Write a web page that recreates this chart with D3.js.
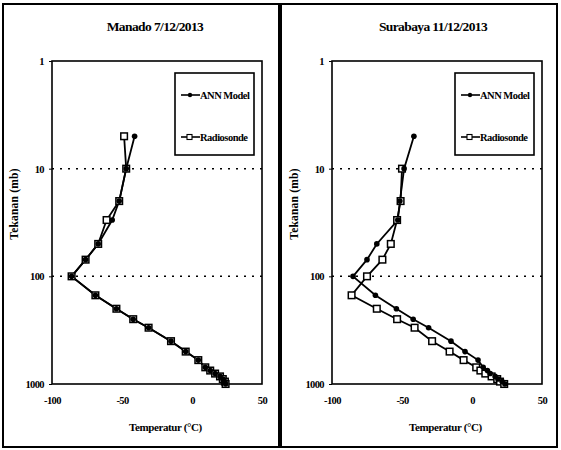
<!DOCTYPE html>
<html>
<head>
<meta charset="utf-8">
<script src="https://cdn.jsdelivr.net/npm/d3@7"></script>
<style>
  body { margin: 0; background: #fff; }
  text { font-family: "Liberation Serif", serif; font-weight: bold; fill: #000; }
</style>
</head>
<body>
<svg id="chart" width="561" height="450"></svg>
<script>
// pressure levels (mb)
var pressureLevels = [5, 10, 20, 30, 50, 70, 100, 150, 200, 250, 300, 400, 500, 600, 700, 750, 800, 850, 900, 950, 1000];

// temperature (deg C) per level
var manadoAnn = [-41, -47, -52, -57, -67, -76, -86, -69, -54, -42, -31, -15, -4.5, 4.5, 9.5, 13, 16.5, 20, 22, 23.5, 24];
var manadoRadio = [-48.5, -47, -52, -61, -67, -76, -86, -69, -54, -42, -31, -15, -4.5, 4.5, 9.5, 13, 16.5, 20, 22, 23.5, 24];
var surabayaAnn = [-41.5, -48.5, -51.5, -53, -68, -75, -85, -69, -54, -42, -31, -15, -5, 4.3, 8, 11, 13, 16.5, 18.5, 21.5, 23.5];
var surabayaRadio = [null, -50, -51, -53.5, -58, -64, -75, -86, -68, -53.5, -41, -28.5, -16, -6, 3, 6, 9.5, 14, 18, 20, 23];

var xTicks = [-100, -50, 0, 50];
var yTicks = [1, 10, 100, 1000];
var gridLevels = [10, 100];
var seriesNames = ["ANN Model", "Radiosonde"];

var panels = [
  { title: "Manado 7/12/2013", ann: manadoAnn, radio: manadoRadio, frameX: 3, plotX: 52 },
  { title: "Surabaya 11/12/2013", ann: surabayaAnn, radio: surabayaRadio, frameX: 281, plotX: 332 }
];

var plotTop = 61, plotW = 210, plotH = 323;
var svg = d3.select("#chart");

var x = d3.scaleLinear().domain([-100, 50]).range([0, plotW]);
var y = d3.scaleLog().domain([1, 1000]).range([0, plotH]);

function toPoints(temps) {
  return pressureLevels.map(function (p, i) {
    return { p: p, t: temps[i] };
  }).filter(function (d) { return d.t !== null; });
}

var line = d3.line()
  .x(function (d) { return x(d.t); })
  .y(function (d) { return y(d.p); });

function styleTicks(sel) {
  sel.selectAll("text")
    .attr("font-size", 10.5).attr("letter-spacing", -0.6)
    .style("font-family", "Liberation Serif").style("font-weight", "bold");
}

panels.forEach(function (cfg) {
  // outer frame
  svg.append("rect")
    .attr("x", cfg.frameX).attr("y", 4)
    .attr("width", 276).attr("height", 443)
    .attr("fill", "none").attr("stroke", "#000").attr("stroke-width", 2);

  svg.append("text")
    .attr("x", cfg.frameX + 152).attr("y", 31)
    .attr("text-anchor", "middle")
    .attr("font-size", 13.5)
    .attr("letter-spacing", -0.6)
    .text(cfg.title);

  var g = svg.append("g").attr("transform", "translate(" + cfg.plotX + "," + plotTop + ")");

  // dotted grid
  g.selectAll(".grid").data(gridLevels).enter().append("line")
    .attr("class", "grid")
    .attr("x1", 0).attr("x2", plotW)
    .attr("y1", function (d) { return y(d); })
    .attr("y2", function (d) { return y(d); })
    .attr("stroke", "#000").attr("stroke-width", 1.5)
    .attr("stroke-dasharray", "2,6");

  var yAxis = d3.axisLeft(y).tickValues(yTicks).tickFormat(d3.format("d")).tickSize(3).tickPadding(5);
  var ya = g.append("g").call(yAxis);
  ya.select(".domain").remove();
  styleTicks(ya);

  var xAxis = d3.axisBottom(x).tickValues(xTicks).tickSize(0).tickPadding(13)
    .tickFormat(function (d) { return d < 0 ? "-" + Math.abs(d) : String(d); });
  var xa = g.append("g").attr("transform", "translate(0," + plotH + ")").call(xAxis);
  xa.select(".domain").remove();
  styleTicks(xa);

  g.append("rect")
    .attr("width", plotW).attr("height", plotH)
    .attr("fill", "none").attr("stroke", "#000").attr("stroke-width", 1.6);

  // series
  var radio = toPoints(cfg.radio), ann = toPoints(cfg.ann);
  g.append("path").datum(radio).attr("d", line)
    .attr("fill", "none").attr("stroke", "#000").attr("stroke-width", 1.8);
  g.append("path").datum(ann).attr("d", line)
    .attr("fill", "none").attr("stroke", "#000").attr("stroke-width", 1.8);

  g.selectAll(".sq").data(radio).enter().append("rect")
    .attr("class", "sq")
    .attr("x", function (d) { return x(d.t) - 3.3; })
    .attr("y", function (d) { return y(d.p) - 3.3; })
    .attr("width", 6.6).attr("height", 6.6)
    .attr("fill", "#fff").attr("stroke", "#000").attr("stroke-width", 1.5);
  g.selectAll(".dot").data(ann).enter().append("circle")
    .attr("class", "dot")
    .attr("cx", function (d) { return x(d.t); })
    .attr("cy", function (d) { return y(d.p); })
    .attr("r", 2.8).attr("fill", "#000");

  // legend
  var lg = g.append("g").attr("transform", "translate(123,12)");
  lg.append("rect").attr("width", 79).attr("height", 82)
    .attr("fill", "#fff").attr("stroke", "#000").attr("stroke-width", 1.6);
  seriesNames.forEach(function (name, i) {
    var ly = 22 + i * 42;
    lg.append("line").attr("x1", 6).attr("x2", 25).attr("y1", ly).attr("y2", ly)
      .attr("stroke", "#000").attr("stroke-width", 1.6);
    if (i === 0) {
      lg.append("circle").attr("cx", 15).attr("cy", ly).attr("r", 2.2).attr("fill", "#000");
    } else {
      lg.append("rect").attr("x", 12).attr("y", ly - 2.5).attr("width", 5).attr("height", 5)
        .attr("fill", "#fff").attr("stroke", "#000").attr("stroke-width", 1.1);
    }
    lg.append("text").attr("x", 25).attr("y", ly + 3.5)
      .attr("font-size", 10.5).attr("letter-spacing", -0.5)
      .text(name);
  });

  // axis titles
  svg.append("text")
    .attr("x", cfg.plotX + x(-19)).attr("y", 431)
    .attr("text-anchor", "middle").attr("font-size", 11).attr("letter-spacing", -0.4)
    .text("Temperatur (°C)");
  svg.append("text")
    .attr("transform", "translate(" + (cfg.plotX - 34) + ",204) rotate(-90)")
    .attr("text-anchor", "middle").attr("font-size", 11.5).attr("letter-spacing", 0.2)
    .text("Tekanan (mb)");
});
</script>
</body>
</html>
